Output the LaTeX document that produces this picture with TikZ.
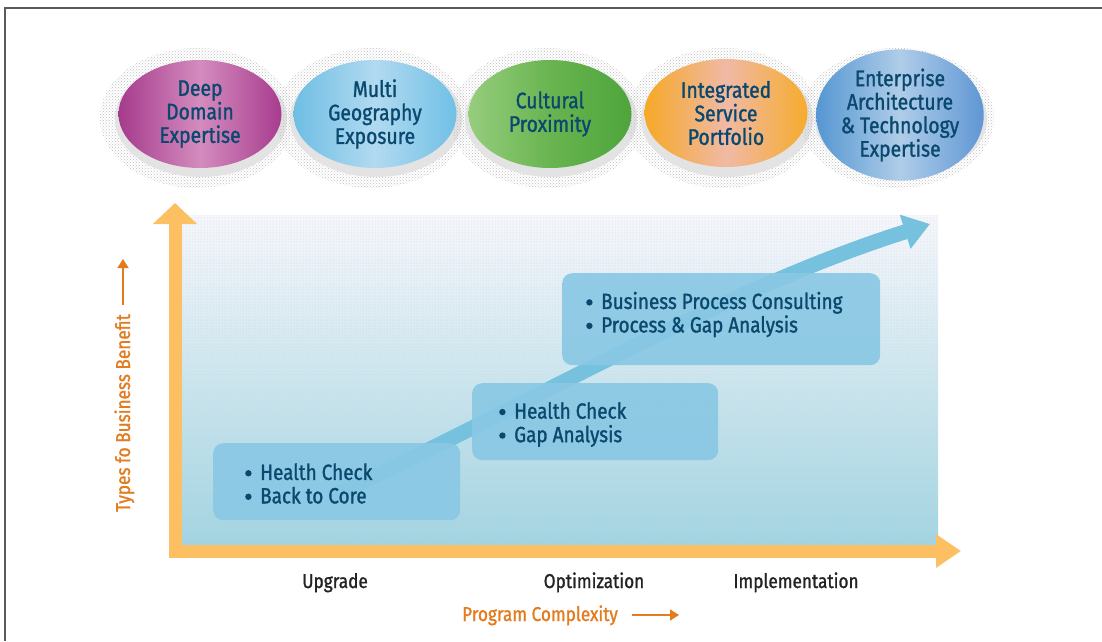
\documentclass[tikz,border=0pt]{standalone}
\usepackage{fontspec}
\setmainfont{Fira Sans}[FakeStretch=0.86,FakeBold=1.2]
\usetikzlibrary{shapes.geometric,arrows.meta,patterns}
\definecolor{txtblue}{RGB}{10,72,110}
\definecolor{axisorange}{RGB}{252,192,98}
\definecolor{lblorange}{RGB}{226,124,30}
\definecolor{boxblue}{RGB}{138,200,228}
\definecolor{trendblue}{RGB}{118,194,222}
\definecolor{bgbottom}{RGB}{160,212,226}
\definecolor{bgtop}{RGB}{246,247,252}
\definecolor{frame}{RGB}{90,90,90}
\definecolor{darktxt}{RGB}{35,35,35}
\tikzset{
  ell/.style={ellipse, minimum width=163pt, minimum height=108pt, inner sep=0pt,
    align=center, text=txtblue, font=\fontsize{22.5}{23.5}\selectfont},
  halo/.style={pattern=crosshatch dots, pattern color=gray!50},
  shadowfill/.style={fill=gray!22},
  stepbox/.style={fill=boxblue, fill opacity=0.92, rounded corners=10pt, inner sep=0pt},
  boxtxt/.style={anchor=west, align=left, text=txtblue, font=\fontsize{22}{23.5}\selectfont, inner sep=0pt},
  phase/.style={anchor=base, text=darktxt, font=\fontsize{20}{22}\selectfont, inner sep=0pt},
  axislbl/.style={text=lblorange, font=\fontsize{20}{22}\selectfont, inner sep=0pt},
  axisline/.style={draw=axisorange, line width=13pt, line join=miter},
  smallarrow/.style={draw=lblorange, line width=1.6pt, -{Triangle[length=9pt,width=11pt]}},
}
\newcommand{\bul}{\makebox[15pt][l]{\tikz[baseline=0pt]\fill[txtblue] (3.4pt,6.6pt) circle (3.2pt);}}
\begin{document}
\begin{tikzpicture}[x=1pt,y=-1pt]
\useasboundingbox (0,0) rectangle (1102,641);
\fill[white] (0,0) rectangle (1102,641);
% frame
\draw[frame, line width=2pt] (4.5,641) -- (4.5,8) -- (1102,8);

% halos behind ellipses
\foreach \cx in {200,375,550,726,900}{
  \fill[halo] (\cx-3,118) ellipse [x radius=97, y radius=70];
  \fill[shadowfill] (\cx+1,119) ellipse [x radius=86, y radius=58];
}
% ellipses
\node[ell, left color={rgb,255:red,165;green,58;blue,140}, right color={rgb,255:red,168;green,60;blue,142}, middle color={rgb,255:red,212;green,140;blue,190}] (e1) at (200,114) {Deep\\Domain\\Expertise};
\node[ell, left color={rgb,255:red,110;green,190;blue,228}, right color={rgb,255:red,112;green,192;blue,230}, middle color={rgb,255:red,178;green,218;blue,240}] (e2) at (375,114) {Multi\\Geography\\Exposure};
\node[ell, left color={rgb,255:red,150;green,205;blue,125}, right color={rgb,255:red,78;green,165;blue,60}, middle color={rgb,255:red,105;green,180;blue,80}] (e3) at (550,114) {Cultural\\Proximity};
\node[ell, left color={rgb,255:red,246;green,168;blue,38}, right color={rgb,255:red,246;green,172;blue,45}, middle color={rgb,255:red,240;green,185;blue,165}] (e4) at (726,113) {Integrated\\Service\\Portfolio};
\node[ell, left color={rgb,255:red,85;green,150;blue,210}, right color={rgb,255:red,95;green,150;blue,212}, middle color={rgb,255:red,175;green,205;blue,232}] (e5) at (900,115) {Enterprise\\Architecture\\\&~Technology\\Expertise};

% plot background
\node[draw=none, minimum width=756pt, minimum height=330pt, inner sep=0pt, top color=bgtop, bottom color=bgbottom, anchor=north west] (bg) at (182,215) {};
\fill[pattern=dots, pattern color=gray!35] (bg.north west) rectangle (bg.south east);

% axes
\coordinate (ytip) at (175,203);
\coordinate (orig) at (175,551);
\coordinate (xtip) at (961,551);
\draw[axisline, {Triangle[length=21pt,width=43pt]}-{Triangle[length=25pt,width=32pt]}] (ytip) -- (orig) -- (xtip);

% trend arrow
\coordinate (trs) at (330,497);
\coordinate (tre) at (930,224);
\draw[trendblue, line width=15pt, -{Triangle[length=26pt,width=34pt]}] (trs) .. controls (520,410) and (720,290) .. (tre);

% step boxes
\node[stepbox, minimum width=247pt, minimum height=77pt, anchor=north west] (b1) at (213,443) {};
\node[stepbox, minimum width=246pt, minimum height=77pt, anchor=north west] (b2) at (472,383) {};
\node[stepbox, minimum width=318pt, minimum height=92pt, anchor=north west] (b3) at (562,273) {};

\node[boxtxt] (t1) at (245,483.5) {\bul Health Check\\\bul Back to Core};
\node[boxtxt] (t2) at (499,424.5) {\bul Health Check\\\bul Gap Analysis};
\node[boxtxt] (t3) at (586,314.5) {\bul Business Process Consulting\\\bul Process \& Gap Analysis};

% phase labels
\node[phase] (p1) at (335,588) {Upgrade};
\node[phase] (p2) at (594,588) {Optimization};
\node[phase] (p3) at (796,588) {Implementation};

% axis labels
\node[axislbl, anchor=base] (xl) at (540,621) {Program Complexity};
\coordinate (xa1) at (632,615);
\coordinate (xa2) at (679,615);
\draw[smallarrow] (xa1) -- (xa2);
\node[axislbl, rotate=90, anchor=base] (yl) at (130,413) {Types fo Business Benefit};
\coordinate (ya1) at (123,305);
\coordinate (ya2) at (123,259);
\draw[smallarrow] (ya1) -- (ya2);
\end{tikzpicture}
\end{document}
